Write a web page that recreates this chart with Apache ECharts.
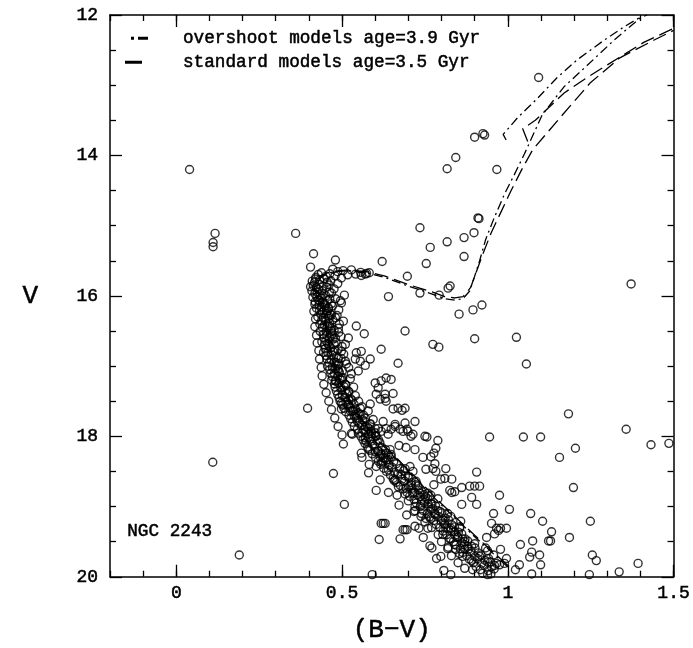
<!DOCTYPE html>
<html><head><meta charset="utf-8">
<script src="https://cdn.jsdelivr.net/npm/echarts@6/dist/echarts.min.js"></script>
<style>html,body{margin:0;padding:0;background:#fff}#c{width:693px;height:648px}</style>
</head><body><div id="c"></div><script>
// ---- tick labels ----
const xTickValues = [0, 0.5, 1, 1.5];
const yTickValues = [12, 14, 16, 18, 20];

// ---- stars [B-V, V] ----
const fieldStars = [[0.04,14.2],[0.117,15.11],[0.111,15.24],[0.111,15.3],[0.36,15.11],[0.414,15.4],[0.405,15.59],[0.48,15.49],[0.396,17.6],[0.11,18.37],[0.19,19.69]];
const giantStars = [[1.093,12.89],[0.90,13.74],[0.925,13.69],[0.93,13.71],[0.817,14.19],[0.843,14.03],[0.967,14.2],[0.735,15.03],[0.817,15.23],[0.766,15.31],[0.754,15.54],[0.868,15.17],[0.898,15.1],[0.91,14.89],[0.913,14.9],[0.868,15.44],[0.697,15.72],[0.735,15.96],[0.793,15.99],[0.82,15.89],[0.826,15.86],[0.853,16.26],[0.895,16.2],[0.922,16.13],[1.372,15.83],
[0.621,15.51],[0.64,16.01],[0.90,16.61],[1.026,16.59],[0.774,16.69],[0.792,16.73],[0.69,16.5],[0.618,16.76],[0.669,16.96],[1.056,16.97],[0.543,16.43],[0.567,16.54],[0.558,15.71],[0.57,15.69],[0.582,15.67]];
const redStars = [[1.183,17.68],[1.357,17.9],[1.432,18.12],[1.486,18.1],[1.099,18.01],[1.156,18.3],[1.204,18.17],[1.198,18.73],[1.249,19.21],[1.186,19.44],[1.255,19.69],[1.267,19.77],[1.393,19.81],[1.336,19.93],[1.246,19.97],[1.069,19.1],[1.105,19.21],[1.132,19.36],[1.123,19.49],[1.129,19.49],[1.075,19.49],[1.072,19.65],[1.066,19.72],[1.096,19.69],[1.099,19.83],[1.072,19.96],[0.939,19.97]];
const upperMSStars = [[0.472,15.62],[0.503,15.64],[0.528,15.63],[0.438,15.67],[0.487,15.655],[0.556,15.665],[0.574,15.68],[0.428,15.695],[0.463,15.685],[0.517,15.7],[0.541,15.69],[0.421,15.735],[0.452,15.72],[0.479,15.715],[0.498,15.745],[0.433,15.77],[0.446,15.755],[0.466,15.785],[0.417,15.81],[0.455,15.805],[0.487,15.825],[0.431,15.835],[0.413,15.855],[0.443,15.86],[0.461,15.845],[0.422,15.885],[0.429,15.905],[0.454,15.875],[0.476,15.9],[0.409,15.93],[0.44,15.925],[0.462,15.945],[0.418,15.97],[0.434,15.985],[0.468,15.96],[0.507,15.99],[0.424,16.015],[0.437,16.03],[0.451,16.0],[0.428,16.055],[0.463,16.045],[0.419,16.085],[0.442,16.09],[0.456,16.07],[0.431,16.13],[0.447,16.115],[0.471,16.145],[0.423,16.175],[0.439,16.16],[0.459,16.185],[0.432,16.21],[0.446,16.205],[0.441,16.235],[0.436,16.265],[0.453,16.25],[0.468,16.275],[0.427,16.3],[0.443,16.315],[0.461,16.32],[0.438,16.355],[0.451,16.365],[0.472,16.34],[0.433,16.4],[0.447,16.415],[0.463,16.39],[0.441,16.45],[0.457,16.44],[0.469,16.465],[0.434,16.505],[0.452,16.51],[0.476,16.49],[0.443,16.55],[0.454,16.565],[0.471,16.54],[0.446,16.6],[0.462,16.59],[0.473,16.615],[0.439,16.655],[0.451,16.64],[0.482,16.665],[0.447,16.7],[0.461,16.715],[0.476,16.69],[0.449,16.755],[0.466,16.74],[0.488,16.765],[0.444,16.805],[0.457,16.81],[0.473,16.795],[0.452,16.85],[0.469,16.84],[0.483,16.86],[0.454,16.9],[0.467,16.915],[0.497,16.89],[0.461,16.955],[0.477,16.94],[0.491,16.965],
[0.558,16.79],[0.543,16.81],[0.54,16.9],[0.555,16.93],[0.57,16.99],[0.585,16.9],[0.513,16.97],[0.489,16.89],[0.498,16.79],[0.51,16.69],[0.519,16.6],[0.48,16.6],[0.468,16.5],[0.489,16.46],[0.504,16.36],[0.48,16.31],[0.465,16.26],[0.468,16.11],[0.459,16.17],[0.48,16.04],[0.495,16.07],[0.498,16.1]];
const bandEdgeStars = [[0.412,16.02],[0.418,16.12],[0.415,16.22],[0.42,16.33],[0.418,16.44],[0.423,16.56],[0.425,16.67],[0.43,16.78],[0.432,16.9],[0.437,17.02],[0.44,17.14],[0.445,17.26],[0.452,17.38],[0.46,17.5],[0.468,17.62],[0.478,17.74],[0.488,17.86],[0.5,17.98],
[0.49,16.2],[0.485,16.28],[0.492,16.4],[0.49,16.52],[0.497,16.58],[0.5,16.72],[0.505,16.83],[0.51,16.93],[0.52,17.02],[0.525,17.18],[0.535,17.3],[0.54,17.42],[0.55,17.5],[0.56,17.58],[0.565,17.7],[0.585,17.82],[0.6,17.95],[0.61,18.05],
[0.425,15.95],[0.44,16.0],[0.432,16.07],[0.45,16.14],[0.455,16.22],[0.46,16.29],[0.462,16.43],[0.468,16.56],[0.457,16.68],[0.478,16.78],[0.482,16.95],[0.488,17.04],[0.5,17.2],[0.51,17.35],[0.52,17.48],[0.535,17.63],[0.545,17.78],[0.56,17.95],[0.57,18.02],[0.58,18.18],[0.6,18.22],[0.62,18.38],[0.64,18.48],[0.66,18.62],[0.67,18.72],[0.69,18.82],[0.7,18.92],[0.72,19.0],[0.74,19.1],[0.75,19.22],[0.77,19.3],[0.79,19.4],[0.8,19.5],[0.82,19.58],[0.83,19.7],[0.85,19.8],[0.87,19.88],
[0.56,18.3],[0.58,18.52],[0.615,18.62],[0.64,18.8],[0.672,18.98],[0.695,19.12],[0.72,19.28],[0.745,19.44],[0.765,19.56],[0.785,19.74],[0.405,15.87],[0.41,15.79],[0.42,15.76]];
const midMSStars = [[0.456,17.0],[0.471,17.015],[0.486,16.99],[0.463,17.05],[0.481,17.04],[0.501,17.065],[0.466,17.105],[0.477,17.11],[0.492,17.09],[0.471,17.15],[0.487,17.14],[0.502,17.165],[0.469,17.2],[0.481,17.215],[0.494,17.19],[0.477,17.255],[0.491,17.24],[0.511,17.265],[0.479,17.3],[0.496,17.31],[0.506,17.29],[0.483,17.355],[0.499,17.34],[0.521,17.365],[0.487,17.405],[0.501,17.41],[0.514,17.39],[0.491,17.45],[0.509,17.44],[0.526,17.465],[0.494,17.5],[0.512,17.515],[0.531,17.49],[0.502,17.555],[0.519,17.56],[0.536,17.54],[0.506,17.6],[0.524,17.59],[0.541,17.615],[0.511,17.65],[0.531,17.64],[0.549,17.665],[0.521,17.7],[0.537,17.715],[0.554,17.69],[0.526,17.75],[0.544,17.74],[0.562,17.765],[0.531,17.8],[0.551,17.815],[0.569,17.79],[0.537,17.855],[0.559,17.84],[0.576,17.865],[0.546,17.9],[0.564,17.91],[0.581,17.89],[0.549,17.955],[0.571,17.94],[0.589,17.96],[0.557,18.0],[0.579,18.015],[0.601,17.99],[0.563,18.05],[0.584,18.04],[0.606,18.065],[0.569,18.1],[0.592,18.115],[0.614,18.09],[0.577,18.155],[0.598,18.14],[0.621,18.16],[0.584,18.2],[0.609,18.215],[0.631,18.19],[0.591,18.25],[0.617,18.24],[0.639,18.265],[0.601,18.3],[0.624,18.31],[0.648,18.29],[0.609,18.355],[0.634,18.34],[0.656,18.36],
[0.549,17.07],[0.6,17.24],[0.618,17.21],[0.633,17.17],[0.648,17.19],[0.609,17.31],[0.63,17.4],[0.603,17.4],[0.615,17.47],[0.633,17.5],[0.654,17.39],[0.669,17.6],[0.69,17.6],[0.681,17.63],[0.699,17.93],[0.684,17.93],[0.714,17.97],[0.69,17.81],[0.66,17.83],[0.648,17.9],[0.528,17.96],[0.498,17.53],[0.519,17.54],[0.498,17.61],[0.525,17.64],[0.579,17.64],[0.585,17.54],[0.555,17.6],[0.57,17.74],[0.594,17.76],[0.624,17.79],[0.609,17.89],[0.639,17.97],[0.489,17.07],[0.498,17.17],[0.48,17.21],[0.51,17.26],[0.519,17.36],[0.528,17.11],[0.63,17.46],[0.654,17.61],[0.54,17.69]];
const lowerMSStars = [[0.617,18.4],[0.642,18.41],[0.664,18.39],[0.626,18.455],[0.651,18.44],[0.674,18.46],[0.634,18.5],[0.659,18.515],[0.686,18.49],[0.646,18.55],[0.668,18.54],[0.691,18.565],[0.654,18.6],[0.681,18.61],[0.702,18.59],[0.664,18.655],[0.689,18.64],[0.709,18.66],[0.676,18.7],[0.701,18.715],[0.722,18.69],[0.684,18.75],[0.711,18.74],[0.731,18.765],[0.696,18.8],[0.719,18.81],[0.741,18.79],[0.704,18.855],[0.729,18.84],[0.752,18.86],[0.717,18.9],[0.741,18.915],[0.759,18.89],[0.724,18.95],[0.749,18.94],[0.771,18.965],[0.736,19.0],[0.761,19.01],[0.782,18.99],[0.744,19.055],[0.769,19.04],[0.789,19.06],[0.757,19.1],[0.781,19.115],[0.801,19.09],[0.764,19.15],[0.791,19.14],[0.811,19.165],[0.777,19.2],[0.799,19.21],[0.821,19.19],[0.784,19.255],[0.809,19.24],[0.831,19.26],[0.796,19.3],[0.821,19.315],[0.839,19.29],[0.805,19.35],[0.829,19.34],[0.851,19.365],[0.816,19.4],[0.841,19.41],[0.861,19.39],[0.824,19.455],[0.849,19.44],[0.871,19.46],[0.836,19.5],[0.861,19.515],[0.879,19.49],[0.844,19.55],[0.869,19.54],[0.891,19.565],[0.857,19.6],[0.881,19.61],[0.901,19.59],[0.864,19.655],[0.889,19.64],[0.911,19.66],[0.876,19.7],[0.901,19.715],[0.919,19.69],[0.884,19.75],[0.909,19.74],[0.931,19.765],[0.896,19.8],[0.921,19.81],[0.939,19.79],[0.904,19.855],[0.929,19.84],[0.951,19.86],[0.917,19.9],[0.941,19.915],[0.959,19.89],[0.924,19.95],[0.949,19.96]];
const spreadStars = [[0.474,18.53],[0.507,18.97],[0.531,17.97],[0.504,18.11],[0.558,18.24],[0.603,18.77],[0.612,19.47],[0.618,19.24],[0.624,19.24],[0.63,19.24],[0.591,19.97],[0.675,19.46],[0.684,19.33],[0.69,19.33],[0.696,19.33],[0.666,18.84],[0.657,18.63],[0.582,18.4],[0.603,18.43],[0.732,19.31],[0.717,19.07],[0.771,19.59],[0.798,19.71],[0.807,19.91],[0.828,19.97],[0.894,19.9],[0.891,19.77],[0.9,19.53],[0.936,19.44],[0.945,18.01],[1.047,18.01],[1.005,19.04],[1.038,19.54],[1.035,19.83],[1.023,19.9],[0.906,18.51],[0.885,18.71],[0.9,18.71],[0.915,18.71],[0.861,18.73],[0.84,18.79],[0.906,18.97],[0.861,18.97],[0.891,18.87],[0.975,18.84],[0.957,19.1],[0.951,19.24],[0.966,19.31],[0.972,19.34],[0.978,19.31],[0.996,19.31],[0.96,19.39],[0.933,19.59],[0.939,19.63],[0.957,19.69],[0.966,19.81],[0.96,19.84],[0.975,19.83],[0.99,19.81],[0.996,19.74],[0.978,19.61],[0.942,19.74],[0.948,19.79],[0.915,19.71],[0.825,18.77],[0.831,18.8],
[0.588,18.07],[0.603,18.0],[0.618,17.93],[0.633,17.89],[0.66,17.86],[0.675,17.9],[0.696,17.9],[0.72,17.79],[0.75,18.0],[0.756,18.01],[0.789,18.06],[0.708,18.0],[0.672,18.13],[0.693,18.16],[0.72,18.19],[0.744,18.3],[0.783,18.17],[0.777,18.24],[0.768,18.29],[0.78,18.39],[0.774,18.46],[0.783,18.5],[0.813,18.46],[0.753,18.47],[0.798,18.61],[0.81,18.6],[0.831,18.61],[0.777,18.69],[0.759,18.81],[0.768,18.84],[0.747,18.83],[0.735,18.81],[0.768,18.96],[0.774,19.03],[0.78,19.1],[0.795,19.07],[0.804,19.19],[0.819,19.1],[0.828,19.14],[0.81,19.26],[0.813,19.31],[0.804,19.4],[0.828,19.31],[0.84,19.36],[0.849,19.43],[0.855,19.29],[0.858,19.21],[0.855,19.31],[0.864,19.46],[0.87,19.5],[0.879,19.57],[0.87,19.61],[0.84,19.54],[0.843,19.61],[0.855,19.67],[0.864,19.71],[0.828,19.46],[0.819,19.6],[0.759,18.96],[0.789,18.89],[0.738,18.97],[0.72,19.06],[0.753,19.17],[0.759,19.31],[0.768,19.17],
[0.609,18.21],[0.618,18.26],[0.63,18.31],[0.639,18.33],[0.624,18.36],[0.615,18.29],[0.633,18.24],[0.645,18.19],[0.648,18.26],[0.579,17.97],[0.588,17.93],[0.6,17.89],[0.585,17.83],[0.57,17.86],[0.573,18.07],[0.69,18.46],[0.705,18.43],[0.714,18.5],[0.699,18.57],[0.678,18.54],[0.723,18.64],[0.708,18.69],[0.729,18.71],[0.693,18.74],[0.714,18.81],[0.735,18.86],[0.738,19.14]];

// ---- isochrones [B-V, V] ----
const overshootMain = [[1.0,19.86],[0.9,19.43],[0.8,18.98],[0.7,18.5],[0.61,18.07],[0.55,17.72],[0.5,17.3],[0.47,16.9],[0.455,16.5],[0.445,16.15],[0.435,15.98],[0.415,15.89],[0.425,15.8],[0.44,15.72],[0.47,15.66],[0.52,15.64],[0.58,15.68],[0.63,15.74],[0.70,15.86],[0.77,15.97],[0.81,16.04],[0.84,16.06],[0.865,16.04],[0.885,15.93],[0.9,15.72],[0.915,15.5],[0.933,15.2],[0.958,14.9],[0.99,14.55],[1.02,14.27],[1.05,13.98],[1.104,13.42],[1.17,13.02],[1.239,12.72],[1.32,12.36],[1.40,12.04],[1.42,12.0]];
const overshootUpper = [[0.995,13.78],[0.986,13.7],[1.03,13.46],[1.089,13.19],[1.149,12.89],[1.209,12.64],[1.29,12.36],[1.35,12.17],[1.40,12.03]];
const standardMain = [[1.0,19.84],[0.9,19.41],[0.8,18.96],[0.7,18.48],[0.61,18.05],[0.55,17.7],[0.5,17.28],[0.47,16.88],[0.452,16.5],[0.44,16.15],[0.43,15.98],[0.41,15.88],[0.42,15.78],[0.44,15.7],[0.47,15.65],[0.52,15.63],[0.58,15.66],[0.63,15.72],[0.70,15.84],[0.77,15.94],[0.81,16.01],[0.84,16.03],[0.865,16.01],[0.888,15.88],[0.905,15.66],[0.925,15.4],[0.95,15.1],[0.98,14.8],[1.01,14.5],[1.04,14.22],[1.075,13.92],[1.158,13.46],[1.248,12.97],[1.338,12.61],[1.44,12.36],[1.5,12.22]];
const standardUpper = [[1.06,13.8],[1.045,13.62],[1.083,13.5],[1.17,13.11],[1.239,12.89],[1.338,12.6],[1.41,12.39],[1.5,12.19]];

const seriesNames = ['overshoot models age=3.9 Gyr', 'standard models age=3.5 Gyr'];
const clusterName = 'NGC 2243';

const FONT = '"Liberation Mono", "DejaVu Sans Mono", monospace';
const TB = {textBorderColor: '#000', textBorderWidth: 0.5};
const stars = [].concat(fieldStars, giantStars, redStars, upperMSStars, bandEdgeStars, midMSStars, lowerMSStars, spreadStars);

const chart = echarts.init(document.getElementById('c'), null, {renderer: 'canvas'});
const frame = {lineStyle: {color: '#000', width: 1.5}};
const majTick = {show: true, inside: true, length: 12, lineStyle: {color: '#000', width: 1.3}};
const minTick = {show: true, inside: true, length: 6, lineStyle: {color: '#000', width: 1.3}};
function xAx(pos, major, labels) {
  const a = {type: 'value', min: -0.2, max: 1.5, position: pos, offset: 0, splitLine: {show: false},
    axisLine: major ? Object.assign({show: true, onZero: false}, frame) : {show: false}};
  if (major) {
    a.axisTick = Object.assign({customValues: xTickValues}, majTick);
    a.axisLabel = labels ? Object.assign({show: true, customValues: xTickValues, color: '#000', fontFamily: FONT, fontSize: 18, margin: 7}, TB) : {show: false};
  } else {
    a.interval = 0.1;
    a.axisTick = minTick;
    a.axisLabel = {show: false};
  }
  return a;
}
function yAx(pos, labels) {
  return {type: 'value', inverse: true, min: 12, max: 20, interval: 2, position: pos, offset: 0,
    splitLine: {show: false}, axisLine: Object.assign({show: true, onZero: false}, frame),
    axisTick: majTick, minorTick: {show: true, splitNumber: 4, length: 6, lineStyle: {color: '#000', width: 1.3}},
    axisLabel: labels ? Object.assign({show: true, color: '#000', fontFamily: FONT, fontSize: 18, margin: 12}, TB) : {show: false},
    name: labels ? 'V' : '', nameLocation: 'middle', nameRotate: 0, nameGap: 72,
    nameTextStyle: Object.assign({color: '#000', fontFamily: FONT, fontSize: 26}, TB)};
}
const xAxes = [xAx('bottom', true, true), xAx('bottom', false), xAx('top', true, false), xAx('top', false)];
xAxes[0].name = '(B\u2212V)'; xAxes[0].nameLocation = 'middle'; xAxes[0].nameGap = 40;
xAxes[0].nameTextStyle = Object.assign({color: '#000', fontFamily: FONT, fontSize: 26}, TB);

const lineBase = (name, data, dash) => ({name, type: 'line', data, xAxisIndex: 0, yAxisIndex: 0,
  showSymbol: false, symbol: 'none', color: '#000', z: 1, silent: true, animation: false,
  lineStyle: {color: '#000', width: 1.3, type: dash}});
const dashDot = [9, 4, 2, 4];
const longDash = [14, 6];

chart.setOption({
  animation: false,
  backgroundColor: '#fff',
  grid: {left: 110, right: 14, top: 15, bottom: 71, containLabel: false},
  xAxis: xAxes,
  yAxis: [yAx('left', true), yAx('right', false)],
  legend: [
    {data: [{name: seriesNames[0], icon: 'path://M0,0h3v3h-3zM7,0h10v3h-10z'}], left: 126, top: 24, itemWidth: 17, itemHeight: 12,
     selectedMode: false, textStyle: Object.assign({color: '#000', fontFamily: FONT, fontSize: 17.7, padding: [0, 0, 0, 30]}, TB)},
    {data: [{name: seriesNames[1], icon: 'path://M0,0h17v3h-17z'}], left: 120, top: 48, itemWidth: 17, itemHeight: 12,
     selectedMode: false, textStyle: Object.assign({color: '#000', fontFamily: FONT, fontSize: 17.7, padding: [0, 0, 0, 36]}, TB)}
  ],
  graphic: [{type: 'text', left: 127, top: 522, style: {text: clusterName, fill: '#000', stroke: '#000', lineWidth: 0.5, font: '17.7px ' + FONT}}],
  series: [
    lineBase(seriesNames[0], overshootMain, dashDot),
    lineBase(seriesNames[0], overshootUpper, dashDot),
    lineBase(seriesNames[1], standardMain, longDash),
    lineBase(seriesNames[1], standardUpper, longDash),
    {type: 'scatter', data: stars, xAxisIndex: 0, yAxisIndex: 0, symbol: 'circle', symbolSize: 8, z: 2,
     silent: true, animation: false, itemStyle: {color: 'rgba(0,0,0,0)', borderColor: '#000', borderWidth: 1.4}}
  ]
});
</script></body></html>
